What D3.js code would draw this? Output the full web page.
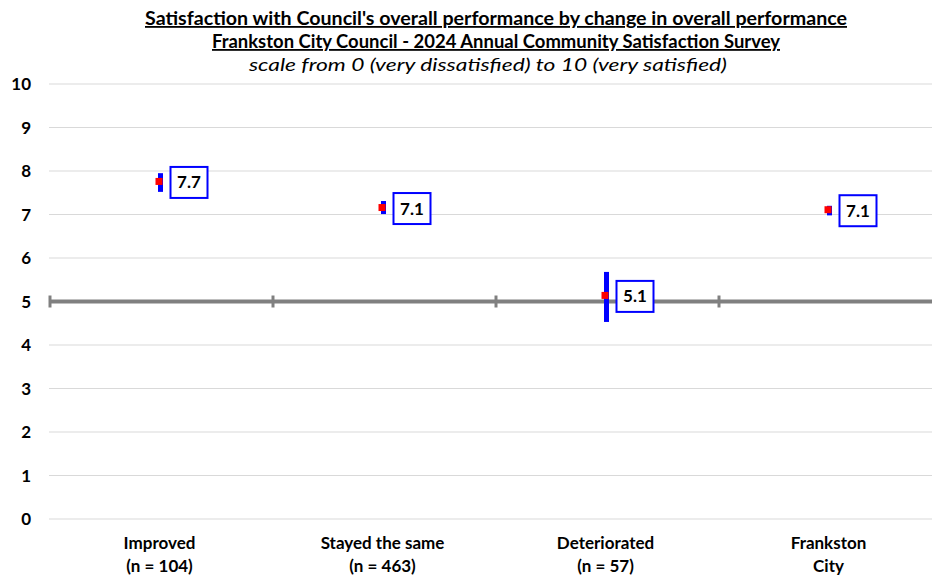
<!DOCTYPE html>
<html><head><meta charset="utf-8">
<script src="https://cdn.jsdelivr.net/npm/d3@7"></script>
<style>body{margin:0;background:#fff}svg{display:block}text{font-family:Lato,"Open Sans",sans-serif}</style>
</head><body><svg id="c" width="932" height="576"></svg>
<script>
const categories = ["Improved|(n = 104)", "Stayed the same|(n = 463)", "Deteriorated|(n = 57)", "Frankston|City"];
const means = [7.76, 7.16, 5.14, 7.11];
const lower = [7.52, 7.01, 4.53, 6.98];
const upper = [7.95, 7.31, 5.68, 7.20];
const valueLabels = ["7.7", "7.1", "5.1", "7.1"];
const yTicks = [0,1,2,3,4,5,6,7,8,9,10];
const benchmark = 5;

const svg = d3.select("#c");
const x = d3.scaleBand().domain(categories).range([49, 941]);
const y = d3.scaleLinear().domain([0,10]).range([519, 84]);

// gridlines
svg.append("g").selectAll("line").data(yTicks).join("line")
  .attr("x1", 49).attr("x2", 932).attr("y1", d=>y(d)).attr("y2", d=>y(d))
  .attr("stroke", "#d9d9d9").attr("stroke-width", 1);
// y labels
svg.append("g").selectAll("text").data(yTicks).join("text")
  .attr("x", 31).attr("y", d=>y(d)+6).attr("text-anchor","end")
  .attr("font-size", 17).attr("font-weight","bold").attr("fill","#000").text(d=>d);
// benchmark line
svg.append("line").attr("x1",49).attr("x2",932).attr("y1",y(benchmark)).attr("y2",y(benchmark))
  .attr("stroke","#808080").attr("stroke-width",4);
svg.append("g").selectAll("line").data(categories).join("line")
  .attr("x1", d=>x(d)+1).attr("x2", d=>x(d)+1).attr("y1", y(benchmark)-6).attr("y2", y(benchmark)+6)
  .attr("stroke","#808080").attr("stroke-width",3);

const cx = i => x(categories[i]) + x.bandwidth()/2;
// error bars
svg.append("g").selectAll("rect").data(means).join("rect")
  .attr("x", (d,i)=>cx(i)-2.5).attr("width", 5)
  .attr("y", (d,i)=>y(upper[i])).attr("height", (d,i)=>y(lower[i])-y(upper[i]))
  .attr("fill","#0000ff");
// red markers
svg.append("g").selectAll("rect").data(means).join("rect")
  .attr("x", (d,i)=>cx(i)-5).attr("y", d=>y(d)-3.5).attr("width",7).attr("height",7)
  .attr("fill","#ff0000");
// value label boxes
const lb = svg.append("g").selectAll("g").data(means).join("g")
  .attr("transform",(d,i)=>`translate(${cx(i)+10},${y(d)-14.5})`);
lb.append("rect").attr("width",37).attr("height",31).attr("fill","#fff")
  .attr("stroke","#0000ff").attr("stroke-width",2);
lb.append("text").attr("x",18.5).attr("y",21.5).attr("text-anchor","middle")
  .attr("font-size",17).attr("font-weight","bold").text((d,i)=>valueLabels[i]);

// x labels
const xl = svg.append("g").selectAll("text").data(categories).join("text")
  .attr("text-anchor","middle").attr("font-size",17).attr("font-weight","bold");
xl.each(function(d){
  const t = d3.select(this); const parts = d.split("|");
  parts.forEach((p,k)=>t.append("tspan").attr("x", x(d)+x.bandwidth()/2 - 1).attr("y", 549 + k*23).text(p));
});

// titles
svg.append("text").attr("x",496).attr("y",25).attr("text-anchor","middle").attr("font-size",18)
  .attr("font-weight","bold").attr("text-decoration","underline")
  .attr("textLength",702).attr("lengthAdjust","spacingAndGlyphs")
  .text("Satisfaction  with Council's overall performance by change in overall performance");
svg.append("text").attr("x",496).attr("y",48).attr("text-anchor","middle").attr("font-size",18)
  .attr("font-weight","bold").attr("text-decoration","underline")
  .attr("textLength",568).attr("lengthAdjust","spacingAndGlyphs")
  .text("Frankston City Council - 2024 Annual Community Satisfaction  Survey");
svg.append("text").attr("x",488).attr("y",71).attr("text-anchor","middle").attr("font-size",18)
  .attr("font-style","italic")
  .attr("textLength",478).attr("lengthAdjust","spacingAndGlyphs")
  .text("scale from 0 (very dissatisfied) to 10 (very satisfied)");
</script></body></html>
